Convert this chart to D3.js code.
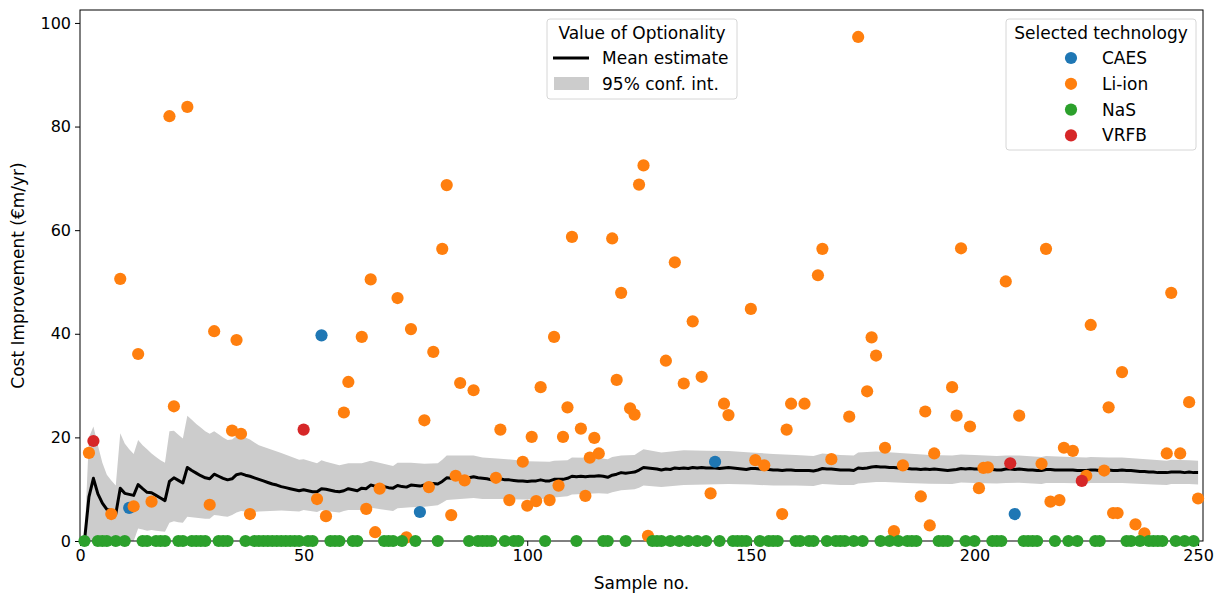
<!DOCTYPE html>
<html>
<head>
<meta charset="utf-8">
<script src="https://cdn.jsdelivr.net/npm/d3@7"></script>
<style>
  body { margin: 0; background: #fff; }
  svg text { font-family: "DejaVu Sans", sans-serif; }
</style>
</head>
<body>
<svg id="chart" width="1227" height="593"></svg>
<script>
// data
const nSamples = 250;
const techNames = ["CAES", "Li-ion", "NaS", "VRFB"];
const techColors = ["#1f77b4", "#ff7f0e", "#2ca02c", "#d62728"];

// [sample no., cost improvement] ; every sample not listed picked NaS at 0
const caesSamples = [[11, 6.4], [54, 39.7], [76, 5.6], [142, 15.3], [209, 5.2]];
const vrfbSamples = [[3, 19.3], [50, 21.5], [208, 15.0], [224, 11.6]];
const liionSamples = [
  [2, 17.0], [7, 5.2], [9, 50.6], [12, 6.7], [13, 36.1], [16, 7.6], [20, 82.0], [21, 26.0],
  [24, 83.8], [29, 7.0], [30, 40.5], [34, 21.3], [35, 38.8], [36, 20.7], [38, 5.2],
  [53, 8.1], [55, 4.8], [59, 24.8], [60, 30.7], [63, 39.4], [64, 6.2], [65, 50.5], [66, 1.7],
  [67, 10.1], [71, 46.9], [73, 0.7], [74, 40.9], [77, 23.3], [78, 10.4], [79, 36.5],
  [81, 56.4], [82, 68.7], [83, 5.0], [84, 12.6], [85, 30.5], [86, 11.7], [88, 29.1],
  [93, 12.2], [94, 21.5], [96, 7.9], [99, 15.3], [100, 6.8], [101, 20.1], [102, 7.7],
  [103, 29.7], [105, 7.9], [106, 39.4], [107, 10.7], [108, 20.1], [109, 25.8], [110, 58.7],
  [112, 21.7], [113, 8.7], [114, 16.1], [115, 19.9], [116, 16.9], [119, 58.4], [120, 31.1],
  [121, 47.9], [123, 25.6], [124, 24.4], [125, 68.8], [126, 72.5], [127, 1.0], [131, 34.8],
  [133, 53.8], [135, 30.4], [137, 42.4], [139, 31.7], [141, 9.2], [144, 26.5], [145, 24.3],
  [150, 44.8], [151, 15.6], [153, 14.6], [157, 5.2], [158, 21.5], [159, 26.5], [162, 26.5],
  [165, 51.3], [166, 56.4], [168, 15.8], [172, 24.0], [174, 97.3], [176, 28.9], [177, 39.3],
  [178, 35.8], [180, 18.0], [182, 1.9], [184, 14.6], [188, 8.6], [189, 25.0], [190, 3.0],
  [191, 16.9], [195, 29.7], [196, 24.2], [197, 56.5], [199, 22.1], [201, 10.2], [202, 14.1],
  [203, 14.2], [207, 50.1], [210, 24.2], [215, 14.9], [216, 56.4], [217, 7.6], [219, 7.9],
  [220, 18.0], [222, 17.4], [225, 12.6], [226, 41.7], [229, 13.6], [230, 25.8], [231, 5.4],
  [232, 5.4], [233, 32.6], [236, 3.2], [238, 1.5], [243, 16.9], [244, 47.9], [246, 16.9],
  [248, 26.8], [250, 8.2]
];

// mean estimate, samples 1..250
const meanEstimate = [
  0, 8.5, 12.1, 9.1, 7.3, 6.1, 5.9, 5.2, 10.2, 9.2,
  9.0, 8.8, 10.9, 10.1, 9.4, 9.3, 8.8, 8.3, 7.8, 11.5,
  12.2, 11.7, 11.2, 14.2, 13.6, 13.1, 12.6, 12.2, 12.0, 12.9,
  12.5, 12.1, 11.8, 12.0, 12.8, 13.0, 12.7, 12.5, 12.2, 11.9,
  11.6, 11.3, 11.0, 10.8, 10.5, 10.3, 10.1, 9.9, 9.7, 9.9,
  9.7, 9.5, 9.5, 10.1, 10.0, 9.8, 9.6, 9.5, 9.7, 10.1,
  9.9, 9.7, 10.2, 10.1, 10.8, 10.6, 10.6, 10.5, 10.3, 10.2,
  10.7, 10.5, 10.4, 10.8, 10.7, 10.6, 10.8, 10.8, 11.1, 11.0,
  11.5, 12.2, 12.1, 12.1, 12.3, 12.3, 12.2, 12.4, 12.2, 12.1,
  12.0, 11.8, 11.9, 12.0, 11.8, 11.8, 11.7, 11.6, 11.6, 11.5,
  11.6, 11.6, 11.8, 11.6, 11.6, 11.9, 11.9, 11.9, 12.1, 12.5,
  12.4, 12.5, 12.4, 12.5, 12.5, 12.6, 12.5, 12.3, 12.7, 12.9,
  13.2, 13.1, 13.2, 13.3, 13.7, 14.2, 14.1, 14.0, 13.9, 13.7,
  13.9, 13.8, 14.1, 14.0, 14.1, 14.0, 14.2, 14.1, 14.2, 14.1,
  14.1, 14.1, 14.0, 14.1, 14.2, 14.1, 14.0, 13.9, 13.8, 14.0,
  14.0, 13.9, 13.9, 13.8, 13.7, 13.7, 13.6, 13.7, 13.7, 13.6,
  13.6, 13.6, 13.6, 13.5, 13.7, 14.0, 13.9, 13.9, 13.8, 13.7,
  13.7, 13.7, 13.6, 14.1, 14.0, 14.1, 14.3, 14.4, 14.3, 14.3,
  14.2, 14.2, 14.1, 14.1, 14.0, 13.9, 13.9, 13.8, 13.9, 13.8,
  13.9, 13.8, 13.7, 13.6, 13.7, 13.8, 14.0, 13.9, 14.0, 13.9,
  13.9, 13.9, 13.9, 13.8, 13.7, 13.7, 13.9, 13.9, 13.8, 13.9,
  13.8, 13.7, 13.7, 13.6, 13.6, 13.8, 13.8, 13.7, 13.7, 13.7,
  13.7, 13.7, 13.6, 13.6, 13.6, 13.7, 13.7, 13.6, 13.6, 13.7,
  13.6, 13.6, 13.7, 13.6, 13.6, 13.5, 13.4, 13.4, 13.3, 13.3,
  13.2, 13.2, 13.2, 13.3, 13.3, 13.3, 13.2, 13.3, 13.2, 13.2
];

// 95% confidence band, read at these sample numbers
const bandX = [
  1, 2, 3, 4, 5, 6, 7, 8, 9, 10, 11, 12, 13, 14, 15, 16, 17, 18, 19, 20,
  21, 22, 23, 24, 25, 26, 27, 28, 29, 30, 31, 32, 33, 34, 35, 36, 37, 38, 39, 40,
  45, 49, 50, 53, 54, 55, 58, 59, 60, 63, 65, 70, 71, 74, 77, 80, 81, 82, 85, 88,
  90, 94, 100, 105, 106, 109, 110, 116, 118, 119, 121, 124, 125, 126, 130, 135, 140, 145, 150, 155,
  160, 164, 166, 170, 173, 174, 178, 180, 185, 190, 195, 197, 200, 205, 207, 210, 215, 216, 220, 225,
  226, 230, 233, 240, 243, 244, 248, 250
];
const bandLow = [
  0, 0, 0, 0, 0, 0, 0, 0, 0, 0, 0, 0, 2.4, 2.2, 2.0, 2.1, 2.0, 1.9, 1.8, 3.5,
  3.8, 3.6, 3.5, 4.7, 4.6, 4.5, 4.4, 4.3, 4.3, 5.0, 4.9, 4.8, 4.7, 5.0, 5.5, 5.8, 5.7, 5.6, 5.6, 5.7,
  5.9, 5.7, 6.0, 5.6, 6.0, 5.8, 5.5, 5.8, 6.0, 6.0, 6.4, 5.8, 6.3, 6.5, 6.6, 6.9, 7.4, 7.9, 8.1, 8.3,
  8.1, 8.1, 8.0, 8.2, 8.4, 8.65, 9.0, 9.2, 9.1, 9.4, 9.8, 10.0, 10.3, 10.7, 10.4, 10.8, 10.9, 11.0, 10.9, 10.7,
  10.7, 10.6, 11.0, 10.8, 10.8, 11.1, 11.4, 11.4, 11.2, 11.05, 11.0, 11.3, 11.2, 11.1, 11.2, 11.25, 11.0, 11.2, 11.2, 11.1,
  11.2, 11.2, 11.2, 10.9, 10.8, 11.0, 11.0, 10.9
];
const bandHigh = [
  0, 20.0, 22.1, 18.5, 15.1, 12.8, 11.7, 10.7, 20.8, 18.8, 17.7, 16.8, 19.5, 18.5, 17.7, 16.9, 16.2, 15.6, 15.1, 21.2,
  21.3, 20.5, 19.8, 24.2, 23.4, 22.6, 21.9, 21.2, 20.7, 21.2, 20.6, 20.0, 19.5, 19.6, 20.3, 20.4, 20.0, 19.6, 19.0, 18.5,
  17.0, 15.7, 15.8, 15.0, 15.6, 15.3, 14.6, 14.8, 15.0, 15.0, 15.5, 14.5, 15.1, 15.1, 14.9, 15.0, 15.7, 16.5, 16.5, 16.5,
  16.1, 15.9, 15.4, 15.3, 15.5, 15.6, 16.1, 16.0, 15.8, 16.2, 16.5, 16.6, 17.2, 17.7, 17.1, 17.5, 17.4, 17.35, 17.1, 16.8,
  16.6, 16.4, 16.9, 16.6, 16.5, 17.1, 17.3, 17.2, 16.9, 16.6, 16.5, 16.7, 16.6, 16.4, 16.5, 16.5, 16.2, 16.4, 16.25, 16.1,
  16.2, 16.1, 16.1, 15.7, 15.5, 15.7, 15.6, 15.5
];

const xTicks = [0, 50, 100, 150, 200, 250];
const yTicks = [0, 20, 40, 60, 80, 100];

// layout
const svg = d3.select("#chart"),
    plot = {left: 80, right: 1203, top: 10, bottom: 541},
    dotRadius = 6.1,
    labelSize = "17px",
    tickSize = "16px";

const x = d3.scaleLinear().domain([0, 251.1]).range([plot.left, plot.right]);
const y = d3.scaleLinear().domain([0, 102.5]).range([plot.bottom, plot.top]);

svg.append("defs").append("clipPath")
    .attr("id", "plot-clip")
  .append("rect")
    .attr("x", plot.left).attr("y", plot.top)
    .attr("width", plot.right - plot.left).attr("height", plot.bottom - plot.top);

// confidence band + mean
const band = bandX.map(function(d, i) { return {x: d, lo: bandLow[i], hi: bandHigh[i]}; });
const area = d3.area()
    .x(function(d) { return x(d.x); })
    .y0(function(d) { return y(d.lo); })
    .y1(function(d) { return y(d.hi); });

svg.append("path")
    .datum(band)
    .attr("clip-path", "url(#plot-clip)")
    .attr("fill", "#cccccc")
    .attr("d", area);

const line = d3.line()
    .x(function(d, i) { return x(i + 1); })
    .y(function(d) { return y(d); });

svg.append("path")
    .datum(meanEstimate)
    .attr("clip-path", "url(#plot-clip)")
    .attr("fill", "none")
    .attr("stroke", "#000")
    .attr("stroke-width", 3)
    .attr("stroke-linejoin", "round")
    .attr("d", line);

// axes
const xAxis = svg.append("g")
    .attr("transform", "translate(0," + plot.bottom + ")")
    .call(d3.axisBottom(x).tickValues(xTicks).tickSize(5).tickPadding(4).tickSizeOuter(0));
const yAxis = svg.append("g")
    .attr("transform", "translate(" + plot.left + ",0)")
    .call(d3.axisLeft(y).tickValues(yTicks).tickSize(5).tickPadding(4).tickSizeOuter(0));

[xAxis, yAxis].forEach(function(a) {
  a.select(".domain").remove();
  a.selectAll("line").attr("stroke", "#000").attr("stroke-width", 1);
  a.selectAll("text")
      .attr("fill", "#000")
      .style("font-size", tickSize)
      .style("font-family", "DejaVu Sans");
});

svg.append("rect")
    .attr("x", plot.left).attr("y", plot.top)
    .attr("width", plot.right - plot.left).attr("height", plot.bottom - plot.top)
    .attr("fill", "none")
    .attr("stroke", "#000")
    .attr("stroke-width", 1);

// scatter, drawn per technology (not clipped)
const listed = {};
caesSamples.concat(vrfbSamples, liionSamples).forEach(function(d) { listed[d[0]] = true; });
const nasSamples = d3.range(1, nSamples + 1)
    .filter(function(i) { return !listed[i]; })
    .map(function(i) { return [i, 0]; });
const groups = [caesSamples, liionSamples, nasSamples, vrfbSamples];

groups.forEach(function(pts, k) {
  svg.append("g")
    .selectAll("circle")
    .data(pts)
    .enter().append("circle")
      .attr("cx", function(d) { return x(d[0]); })
      .attr("cy", function(d) { return y(d[1]); })
      .attr("r", dotRadius)
      .attr("fill", techColors[k]);
});

// axis labels
svg.append("text")
    .attr("x", (plot.left + plot.right) / 2)
    .attr("y", 589)
    .attr("text-anchor", "middle")
    .style("font-size", labelSize)
    .text("Sample no.");

svg.append("text")
    .attr("transform", "translate(24," + (plot.top + plot.bottom) / 2 + ") rotate(-90)")
    .attr("text-anchor", "middle")
    .style("font-size", labelSize)
    .text("Cost Improvement (€m/yr)");

// legend: value of optionality
const leg1 = svg.append("g");
leg1.append("rect")
    .attr("x", 547).attr("y", 19).attr("width", 190).attr("height", 80).attr("rx", 3)
    .attr("fill", "#fff").attr("fill-opacity", 0.8)
    .attr("stroke", "#d6d6d6");
leg1.append("text")
    .attr("x", 642).attr("y", 39).attr("text-anchor", "middle")
    .style("font-size", labelSize).text("Value of Optionality");
leg1.append("line")
    .attr("x1", 553).attr("x2", 589).attr("y1", 58).attr("y2", 58)
    .attr("stroke", "#000").attr("stroke-width", 3);
leg1.append("text")
    .attr("x", 602).attr("y", 64)
    .style("font-size", labelSize).text("Mean estimate");
leg1.append("rect")
    .attr("x", 554).attr("y", 77).attr("width", 35).attr("height", 13)
    .attr("fill", "#cccccc");
leg1.append("text")
    .attr("x", 602).attr("y", 90)
    .style("font-size", labelSize).text("95% conf. int.");

// legend: selected technology
const leg2 = svg.append("g");
leg2.append("rect")
    .attr("x", 1006).attr("y", 19).attr("width", 190).attr("height", 131).attr("rx", 3)
    .attr("fill", "#fff").attr("fill-opacity", 0.8)
    .attr("stroke", "#d6d6d6");
leg2.append("text")
    .attr("x", 1101).attr("y", 39).attr("text-anchor", "middle")
    .style("font-size", labelSize).text("Selected technology");

const entry = leg2.selectAll("g.entry")
    .data(techNames)
  .enter().append("g")
    .attr("class", "entry")
    .attr("transform", function(d, i) { return "translate(0," + (58 + i * 25.8) + ")"; });
entry.append("circle")
    .attr("cx", 1071).attr("cy", 0).attr("r", dotRadius)
    .attr("fill", function(d, i) { return techColors[i]; });
entry.append("text")
    .attr("x", 1102).attr("y", 6)
    .style("font-size", labelSize)
    .text(function(d) { return d; });
</script>
</body>
</html>
